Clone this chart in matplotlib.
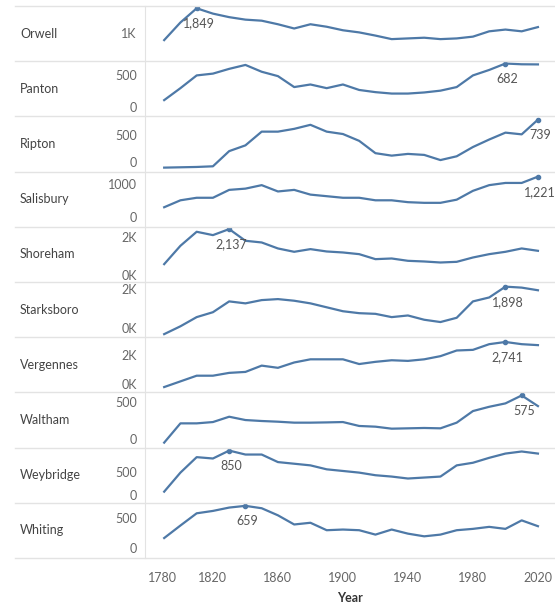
import matplotlib.pyplot as plt
from matplotlib.lines import Line2D

years = [1790, 1800, 1810, 1820, 1830, 1840, 1850, 1860, 1870, 1880, 1890, 1900,
         1910, 1920, 1930, 1940, 1950, 1960, 1970, 1980, 1990, 2000, 2010, 2020]

towns = ['Orwell', 'Panton', 'Ripton', 'Salisbury', 'Shoreham',
         'Starksboro', 'Vergennes', 'Waltham', 'Weybridge', 'Whiting']

orwell = [760, 1364, 1849, 1667, 1546, 1461, 1425, 1303, 1158, 1303, 1218, 1097,
          1024, 915, 794, 818, 842, 794, 818, 879, 1061, 1121, 1061, 1206]
panton = [113, 299, 497, 525, 599, 660, 554, 486, 316, 356, 299, 356,
          271, 237, 215, 215, 232, 260, 316, 497, 582, 682, 670, 668]
ripton = [15, 20, 25, 35, 264, 351, 558, 558, 600, 661, 558, 522,
          419, 233, 196, 222, 207, 129, 186, 326, 439, 543, 517, 739]
salisbury = [290, 501, 578, 578, 818, 856, 962, 770, 818, 674, 626, 578,
             578, 501, 501, 444, 424, 424, 520, 789, 962, 1029, 1029, 1221]
shoreham = [721, 1463, 2029, 1894, 2137, 1665, 1597, 1355, 1220, 1328, 1233, 1193,
            1125, 923, 950, 856, 829, 788, 815, 990, 1125, 1220, 1355, 1260]
starksboro = [40, 347, 706, 898, 1321, 1244, 1372, 1411, 1347, 1244, 1090, 936,
              860, 834, 706, 770, 603, 513, 680, 1321, 1475, 1898, 1860, 1757]
vergennes = [201, 521, 841, 841, 1000, 1054, 1409, 1285, 1586, 1764, 1764, 1764,
             1498, 1622, 1711, 1675, 1764, 1942, 2261, 2297, 2617, 2741, 2617, 2563]
waltham = [34, 255, 255, 270, 331, 293, 282, 274, 263, 263, 266, 270,
           225, 217, 194, 198, 202, 198, 263, 396, 445, 484, 575, 453]
weybridge = [175, 488, 742, 720, 850, 785, 785, 661, 634, 607, 542, 515,
             488, 445, 423, 391, 407, 423, 607, 650, 731, 801, 835, 801]
whiting = [227, 395, 559, 591, 636, 659, 627, 532, 409, 432, 332, 341,
           332, 273, 341, 286, 250, 273, 332, 350, 377, 350, 464, 386]

series = [orwell, panton, ripton, salisbury, shoreham,
          starksboro, vergennes, waltham, weybridge, whiting]

# per-row axis settings (independent y axes like the original)
ylims = [(38, 1928), (-140, 718), (-45, 788), (-305, 1374), (0, 2230),
         (-80, 2080), (-100, 3010), (-23, 610), (-8, 899), (-41, 700)]
yticks = [[1000], [0, 500], [0, 500], [0, 1000], [0, 2000],
          [0, 2000], [0, 2000], [0, 500], [0, 500], [0, 500]]
ytick_labels = [['1K'], ['0', '500'], ['0', '500'], ['0', '1000'], ['0K', '2K'],
                ['0K', '2K'], ['0K', '2K'], ['0', '500'], ['0', '500'], ['0', '500']]
xticks = [1780, 1820, 1860, 1900, 1940, 1980, 2020]

plt.rcParams['font.family'] = ['Lato', 'DejaVu Sans']

W, H = 555, 607
fig = plt.figure(figsize=(W / 100, H / 100), dpi=100)

line_color = '#4e79a7'
sep_color = '#e3e3e3'
top_px, bot_px = 6, 558
row_h = (bot_px - top_px) / len(towns)
left_px = 145

for i, (town, vals) in enumerate(zip(towns, series)):
    y_top = top_px + i * row_h
    ax = fig.add_axes([left_px / W, 1 - (y_top + row_h) / H, 1 - left_px / W, row_h / H])
    ax.plot(years, vals, color=line_color, lw=1.6, solid_joinstyle='round')

    # mark and label the peak of each town
    k = vals.index(max(vals))
    ax.plot(years[k], vals[k], 'o', color=line_color, ms=3)
    ax.annotate(f'{vals[k]:,}', (years[k], vals[k]), xytext=(1.5, -11),
                textcoords='offset points', ha='center', va='center',
                fontsize=9, color='#555555', annotation_clip=False)

    ax.set_xlim(1778.2, 2030.5)
    ax.set_ylim(*ylims[i])
    ax.set_yticks(yticks[i])
    ax.set_yticklabels(ytick_labels[i])
    lo, hi = ylims[i]
    for t, tv in zip(ax.yaxis.get_major_ticks(), yticks[i]):
        frac = (tv - lo) / (hi - lo)
        if frac < 0.12:
            t.label1.set_va('bottom')
        elif frac > 0.88:
            t.label1.set_va('top')
    ax.tick_params(axis='y', length=0, pad=6, labelsize=9, labelcolor='#666666')

    for s in ['top', 'right', 'bottom']:
        ax.spines[s].set_visible(False)
    ax.spines['left'].set_color(sep_color)
    ax.set_facecolor('none')

    ax.set_xticks(xticks)
    if i == len(towns) - 1:
        ax.tick_params(axis='x', length=0, pad=10, labelsize=9, labelcolor='#666666')
        ax.get_xticklabels()[0].set_ha('left')
        ax.set_xlabel('Year', fontsize=9, fontweight='bold', color='#333333', labelpad=6)
    else:
        ax.tick_params(axis='x', length=0, labelbottom=False)

    fig.text(20 / W, 1 - (y_top + row_h / 2) / H, town, ha='left', va='center',
             fontsize=9, color='#444444')

# row separators
for i in range(len(towns) + 1):
    y = 1 - (top_px + i * row_h) / H
    fig.add_artist(Line2D([15 / W, 1], [y, y], color=sep_color, lw=1))

fig.savefig('out.png', dpi=100)
